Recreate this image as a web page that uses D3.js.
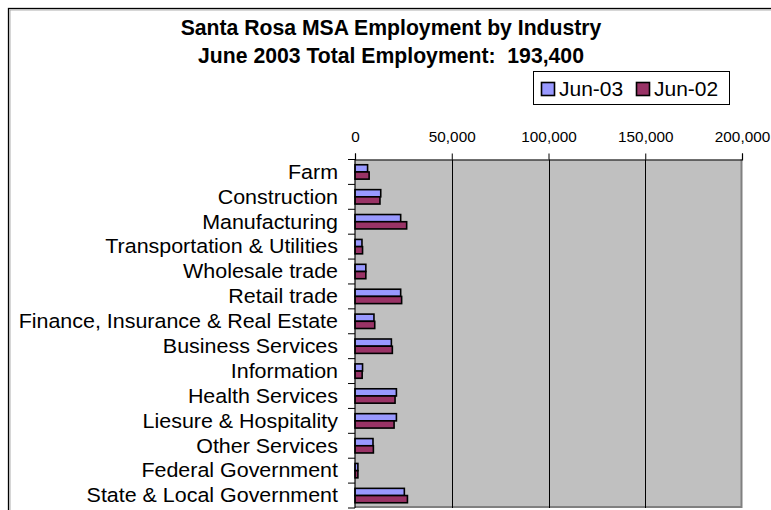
<!DOCTYPE html>
<html>
<head>
<meta charset="utf-8">
<script src="https://cdn.jsdelivr.net/npm/d3@7"></script>
<style>
  html, body { margin: 0; padding: 0; background: #fff; }
  text { font-family: "Liberation Sans", Arial, sans-serif; fill: #000; }
</style>
</head>
<body>
<svg id="chart" width="771" height="510"></svg>
<script>
const categories = [
  "Farm", "Construction", "Manufacturing", "Transportation & Utilities",
  "Wholesale trade", "Retail trade", "Finance, Insurance & Real Estate",
  "Business Services", "Information", "Health Services",
  "Liesure & Hospitality", "Other Services", "Federal Government",
  "State & Local Government"
];
const seriesNames = ["Jun-03", "Jun-02"];
const jun03 = [6500, 13300, 23600, 3600, 5600, 23600, 9800, 18800, 3900, 21400, 21400, 9300, 1500, 25500];
const jun02 = [7300, 12900, 26700, 3900, 5600, 24100, 10200, 19300, 3700, 20700, 20200, 9500, 1500, 27100];
const tickValues = [0, 50000, 100000, 150000, 200000];
const titleLines = ["Santa Rosa MSA Employment by Industry", "June 2003 Total Employment:  193,400"];
const colors = ["#9999FF", "#993366"];

(function () {
const svg = d3.select("#chart");

// outer chart border
svg.append("rect").attr("x", 8.5).attr("y", 8.5).attr("width", 800).attr("height", 600)
  .attr("fill", "none").attr("stroke", "#000").attr("stroke-width", 1.3);
svg.append("rect").attr("x", 10).attr("y", 10).attr("width", 800).attr("height", 600)
  .attr("fill", "none").attr("stroke", "#999").attr("stroke-width", 0.8);

// title
svg.selectAll("text.title").data(titleLines).join("text")
  .attr("class", "title")
  .attr("x", 391).attr("y", (d, i) => 34.5 + i * 28.3)
  .attr("text-anchor", "middle")
  .style("font-size", "21.2px").style("font-weight", "bold")
  .style("white-space", "pre")
  .text(d => d);

const pLeft = 355, pRight = 742, pTop = 159.5, pBottom = 508;
const x = d3.scaleLinear().domain([0, 200000]).range([pLeft, pRight]);
const y = d3.scaleBand().domain(categories).range([pTop, pBottom]).padding(0);
const ySub = d3.scaleBand().domain(seriesNames).range([0, y.bandwidth()]).paddingInner(0).paddingOuter(0.73);

// plot background
svg.append("rect").attr("x", pLeft).attr("y", pTop).attr("width", pRight - pLeft).attr("height", pBottom - pTop)
  .attr("fill", "#C0C0C0");
svg.append("line").attr("x1", pRight - 0.5).attr("x2", pRight - 0.5).attr("y1", pTop).attr("y2", pBottom)
  .attr("stroke", "#808080").attr("stroke-width", 2);
svg.append("line").attr("x1", pLeft).attr("x2", pRight).attr("y1", pBottom - 1).attr("y2", pBottom - 1)
  .attr("stroke", "#808080").attr("stroke-width", 2);

// gridlines
svg.append("g").selectAll("line").data(tickValues.filter(v => v > 0 && v < 200000)).join("line")
  .attr("x1", d => Math.round(x(d)) + 0.5).attr("x2", d => Math.round(x(d)) + 0.5)
  .attr("y1", pTop).attr("y2", pBottom)
  .attr("stroke", "#000").attr("stroke-width", 1);

// bars
const data = categories.map((c, i) => ({ c, vals: [jun03[i], jun02[i]] }));
const groups = svg.append("g").selectAll("g").data(data).join("g")
  .attr("transform", d => `translate(0,${y(d.c)})`);
groups.selectAll("rect").data(d => d.vals.map((v, j) => ({ v, s: seriesNames[j], j }))).join("rect")
  .attr("x", x(0))
  .attr("y", d => ySub(d.s))
  .attr("width", d => x(d.v) - x(0))
  .attr("height", ySub.bandwidth())
  .attr("fill", d => colors[d.j])
  .attr("stroke", "#000").attr("stroke-width", 1.6);

// top axis
const xAxis = d3.axisTop(x).tickValues(tickValues).tickSize(6).tickPadding(12)
  .tickFormat(d3.format(","));
const gx = svg.append("g").attr("transform", `translate(0,${pTop})`).call(xAxis);
gx.select(".domain").attr("stroke", "#000").attr("stroke-width", 1.2);
gx.selectAll(".tick line").attr("stroke", "#000");
gx.selectAll(".tick text").style("font-size", "15.3px").style("font-family", "'Liberation Sans', Arial, sans-serif").attr("fill", "#000");

// left axis with ticks between categories
svg.append("line").attr("x1", pLeft).attr("x2", pLeft).attr("y1", pTop).attr("y2", pBottom)
  .attr("stroke", "#000").attr("stroke-width", 1.2);
const boundaries = categories.map(c => y(c)).concat([pBottom]);
svg.append("g").selectAll("line").data(boundaries).join("line")
  .attr("x1", pLeft - 7).attr("x2", pLeft)
  .attr("y1", d => d).attr("y2", d => d)
  .attr("stroke", "#000").attr("stroke-width", 1);

// category labels (slightly wide glyphs as in the reference)
svg.append("g").selectAll("text").data(categories).join("text")
  .attr("transform", d => `translate(338,${y(d) + y.bandwidth() / 2 + 6.8}) scale(1.1,1)`)
  .attr("text-anchor", "end")
  .style("font-size", "19.5px")
  .text(d => d);

// legend
const lg = svg.append("g");
lg.append("rect").attr("x", 533.5).attr("y", 71.5).attr("width", 196).attr("height", 33)
  .attr("fill", "#fff").attr("stroke", "#000").attr("stroke-width", 1);
const legX = [541, 636];
seriesNames.forEach((s, i) => {
  lg.append("rect").attr("x", legX[i] + 0.5).attr("y", 82.5).attr("width", 13).attr("height", 13)
    .attr("fill", colors[i]).attr("stroke", "#000").attr("stroke-width", 1.6);
  lg.append("text").attr("transform", `translate(${legX[i] + 18},96) scale(1.05,1)`)
    .style("font-size", "20px").text(s);
});
})();
</script>
</body>
</html>
